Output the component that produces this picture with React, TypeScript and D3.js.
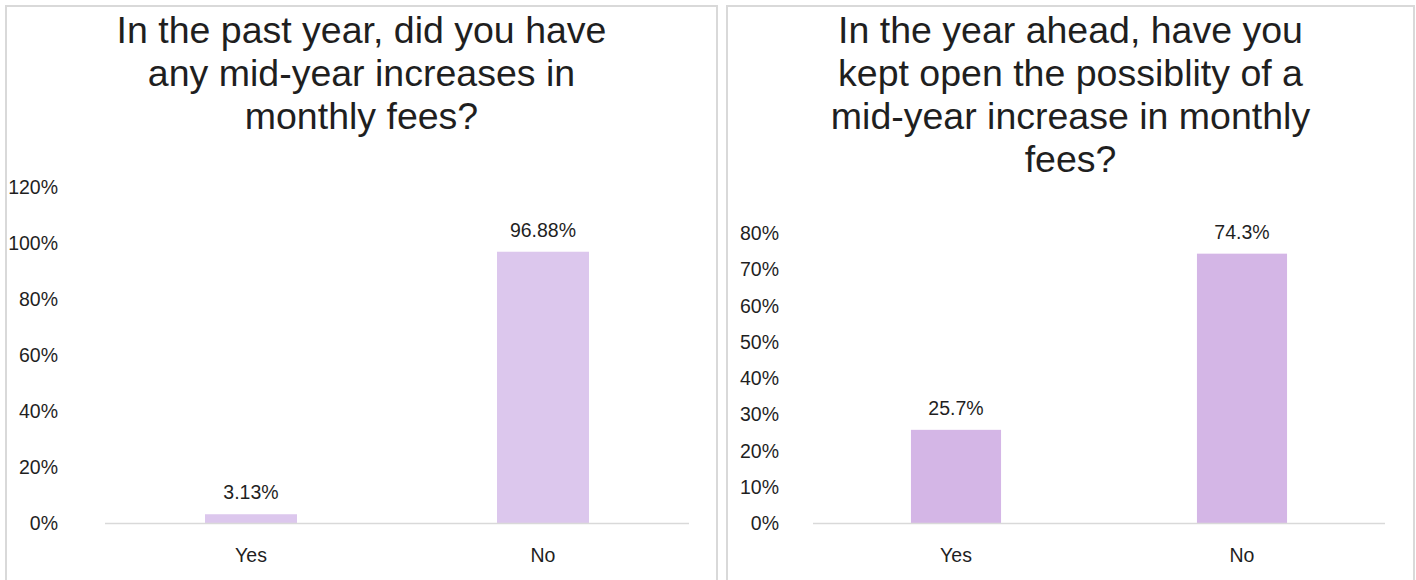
import React from "react";
import * as d3 from "d3";

const categories = ["Yes", "No"];
const pastYearValues = [3.13, 96.88];
const pastYearLabels = ["3.13%", "96.88%"];
const pastYearTicks = [0, 20, 40, 60, 80, 100, 120];
const pastYearTitle = ["In the past year, did you have", "any mid-year increases in", "monthly fees?"];

const yearAheadValues = [25.7, 74.3];
const yearAheadLabels = ["25.7%", "74.3%"];
const yearAheadTicks = [0, 10, 20, 30, 40, 50, 60, 70, 80];
const yearAheadTitle = ["In the year ahead, have you", "kept open the possiblity of a", "mid-year increase in monthly", "fees?"];

const FONT = "'Liberation Sans', Arial, sans-serif";
const TEXT = "#1f1f1f";
const GRID = "#d9d9d9";

type PanelProps = {
  x0: number; x1: number;
  plotX0: number; plotX1: number;
  yTop: number; yMaxVal: number;
  values: number[]; labels: string[]; ticks: number[]; title: string[];
  color: string; tickRight: number;
};

function Panel(p: PanelProps) {
  const yBase = 523;
  const x = d3.scaleBand<string>().domain(categories).range([p.plotX0, p.plotX1]).padding(0);
  const y = d3.scaleLinear().domain([0, p.yMaxVal]).range([yBase, p.yTop]);
  const barW = x.step() * 0.315;
  const cx = (p.x0 + p.x1) / 2;
  return (
    <g>
      <rect x={p.x0} y={6} width={p.x1 - p.x0} height={600} fill="#fff" stroke={GRID} strokeWidth={2} />
      {p.title.map((t, i) => (
        <text key={i} x={cx} y={43 + i * 43} textAnchor="middle" fontSize={37.5} fill={TEXT} fontFamily={FONT}>{t}</text>
      ))}
      {p.ticks.map((t) => (
        <text key={t} x={p.tickRight} y={y(t) + 7} textAnchor="end" fontSize={19.5} fill={TEXT} fontFamily={FONT}>{t + "%"}</text>
      ))}
      {categories.map((c, i) => {
        const bx = (x(c) as number) + x.bandwidth() / 2;
        return (
          <g key={c}>
            <rect x={bx - barW / 2} y={y(p.values[i])} width={barW} height={yBase - y(p.values[i])} fill={p.color} />
            <text x={bx} y={y(p.values[i]) - 15} textAnchor="middle" fontSize={19.5} fill={TEXT} fontFamily={FONT}>{p.labels[i]}</text>
            <text x={bx} y={562} textAnchor="middle" fontSize={19.5} fill={TEXT} fontFamily={FONT}>{c}</text>
          </g>
        );
      })}
      <line x1={p.plotX0} x2={p.plotX1} y1={yBase + 0.5} y2={yBase + 0.5} stroke={GRID} strokeWidth={1.5} />
    </g>
  );
}

export default function App() {
  return (
    <svg width={1416} height={580} style={{ position: "absolute", left: 0, top: 0, display: "block" }}>
      <rect width={1416} height={580} fill="#fff" />
      <Panel x0={6} x1={717} plotX0={105} plotX1={689} yTop={187} yMaxVal={120}
        values={pastYearValues} labels={pastYearLabels} ticks={pastYearTicks} title={pastYearTitle}
        color="#dcc7ed" tickRight={58} />
      <Panel x0={727} x1={1414} plotX0={813} plotX1={1385} yTop={233} yMaxVal={80}
        values={yearAheadValues} labels={yearAheadLabels} ticks={yearAheadTicks} title={yearAheadTitle}
        color="#d4b6e6" tickRight={779} />
    </svg>
  );
}
